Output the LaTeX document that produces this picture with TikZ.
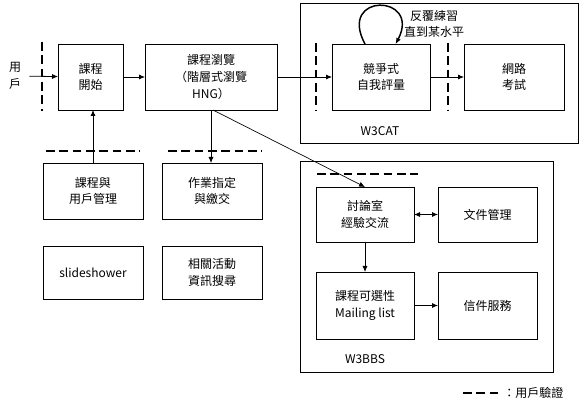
\documentclass[tikz,border=0pt]{standalone}
\usepackage{fontspec}
\setmainfont{Noto Sans CJK TC}
\usetikzlibrary{positioning, arrows.meta}
\tikzset{
  box/.style={rectangle, draw, line width=0.6pt, align=center, inner sep=2pt, outer sep=0pt},
  frame/.style={draw, line width=0.6pt},
  arrow/.style={-{Latex[length=4.5pt,width=3.8pt]}, line width=0.6pt},
  verify/.style={line width=1.5pt, dash pattern=on 6.5pt off 3.5pt},
}

\begin{document}
\begin{tikzpicture}[x=0.75pt, y=-0.75pt, font=\fontsize{9pt}{12.5pt}\selectfont]
  \useasboundingbox (0,0) rectangle (586,406);

  % frames of the two systems
  \draw[frame] (300,3) rectangle (578,143);
  \draw[frame] (300,161) rectangle (553,372);
  \node (cat) at (380,131) {W3CAT};
  \node (bbs) at (365,359) {W3BBS};

  % top row
  \node[align=center, outer sep=3pt] (user) at (15,76) {用\\戶};
  \node[box, minimum width=48.75pt, minimum height=49.5pt] (start) at (90.5,77) {課程\\開始};
  \node[box, minimum width=99pt, minimum height=49.5pt] (browse) at (211,77) {課程瀏覽\\（階層式瀏覽\\HNG）};
  \node[box, minimum width=73.5pt, minimum height=49.5pt] (selfeval) at (381,77) {競爭式\\自我評量};
  \node[box, minimum width=75pt, minimum height=49.5pt] (exam) at (514,77) {網路\\考試};
  \node[align=center] (repeat) at (434,24) {反覆練習\\直到某水平};

  % left column
  \node[box, minimum width=75pt, minimum height=42pt] (manage) at (93,191) {課程與\\用戶管理};
  \node[box, minimum width=75pt, minimum height=42pt] (homework) at (212,191) {作業指定\\與繳交};
  \node[box, minimum width=75pt, minimum height=39.75pt] (slides) at (93,272.5) {slideshower};
  \node[box, minimum width=75pt, minimum height=39.75pt] (search) at (212,272.5) {相關活動\\資訊搜尋};

  % W3BBS
  \node[box, minimum width=73.5pt, minimum height=41.25pt] (forum) at (365,214.5) {討論室\\經驗交流};
  \node[box, minimum width=74.25pt, minimum height=41.25pt] (docs) at (487.5,214.5) {文件管理};
  \node[box, minimum width=73.5pt, minimum height=50.25pt] (mailing) at (365,305.5) {課程可選性\\Mailing list};
  \node[box, minimum width=74.25pt, minimum height=50.25pt] (mail) at (487.5,305.5) {信件服務};

  % user checks
  \draw[verify] (42,42) -- (42,111);
  \draw[verify] (316,43) -- (316,110);
  \draw[verify] (448,43) -- (448,110);
  \draw[verify] (46,151) -- (140,151);
  \draw[verify] (168,151) -- (262,151);
  \draw[verify, line width=0.8pt] (317,174) -- (418,174);

  % connectors
  \draw[arrow] (user) -- (start);
  \draw[arrow] (start) -- (browse);
  \draw[arrow] (browse) -- (selfeval);
  \draw[arrow] (selfeval) -- (exam);
  \draw[arrow, line width=1.1pt] ([xshift=-12pt]selfeval.north) .. controls +(-28,-52) and +(26,-50) .. ([xshift=11pt]selfeval.north);
  \draw[arrow] (manage.north) -- (manage.north |- start.south);
  \draw[arrow] (browse.south) -- (browse.south |- homework.north);
  \draw[arrow, line width=0.5pt] ([xshift=1.5pt]browse.south) -- (forum.north);
  \draw[{Latex[length=4.5pt,width=3.8pt]}-{Latex[length=4.5pt,width=3.8pt]}, line width=0.6pt] (forum) -- (docs);
  \draw[arrow] (forum) -- (mailing);
  \draw[arrow] (mailing) -- (mail);

  % legend
  \draw[verify, line width=2pt] (463,393) -- (501,393);
  \node[anchor=west, inner sep=0pt] (legend) at (503,393) {：用戶驗證};
\end{tikzpicture}
\end{document}
